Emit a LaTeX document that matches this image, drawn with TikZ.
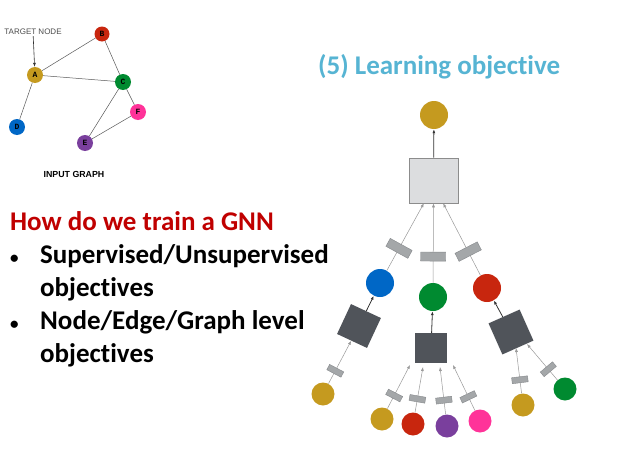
\documentclass[tikz,border=0pt]{standalone}
\usepackage{fontspec}
\setmainfont{Carlito}[Ligatures=NoCommon]
\newfontfamily\graphfont{Liberation Sans}
\newfontfamily\letterfont{Liberation Mono}
\usetikzlibrary{arrows.meta}
\definecolor{gold}{HTML}{C59A1F}
\definecolor{nblue}{HTML}{0067C6}
\definecolor{ngreen}{HTML}{008A30}
\definecolor{nred}{HTML}{C8260E}
\definecolor{npurple}{HTML}{7A3F9D}
\definecolor{npink}{HTML}{FF3399}
\definecolor{boxdark}{HTML}{50545A}
\definecolor{boxlight}{HTML}{DCDDDF}
\definecolor{gategray}{HTML}{A4A7A9}
\definecolor{gateedge}{HTML}{85888B}
\definecolor{edgegray}{HTML}{999999}
\definecolor{titleblue}{HTML}{56B4D3}
\definecolor{headred}{HTML}{C00000}
\begin{document}
\begin{tikzpicture}[x=1pt,y=-1pt,
  gnode/.style={circle,minimum size=16pt,inner sep=0pt,font=\letterfont\bfseries\fontsize{8}{8}\selectfont},
  gedge/.style={draw=black!65,line width=0.5pt},
  tnode/.style={circle,minimum size=28pt,inner sep=0pt},
  leaf/.style={circle,minimum size=23pt,inner sep=0pt},
  aggbox/.style={fill=boxdark,inner sep=0pt},
  msg/.style={-{Latex[length=4pt,width=3pt]},draw=edgegray,line width=0.5pt},
  upd/.style={-{Latex[length=4pt,width=3pt]},draw=black!80,line width=0.8pt},
  gatebig/.style={fill=gategray,draw=gateedge,line width=0.4pt,minimum width=9pt,minimum height=25pt,inner sep=0pt,sloped},
  gatesmall/.style={fill=gategray,draw=gateedge,line width=0.4pt,minimum width=6pt,minimum height=16pt,inner sep=0pt,sloped}]
\useasboundingbox (0,0) rectangle (633,474);
\fill[white] (0,0) rectangle (633,474);

\node[gnode,fill=gold] (A) at (35,75) {A};
\node[gnode,fill=nred,minimum size=15pt] (B) at (102,34) {B};
\node[gnode,fill=ngreen] (C) at (123,82) {C};
\node[gnode,fill=nblue] (D) at (17,127) {D};
\node[gnode,fill=npurple] (E) at (85,143) {E};
\node[gnode,fill=npink] (F) at (138,112) {F};
\draw[gedge] (A) -- (B);
\draw[gedge] (A) -- (C);
\draw[gedge] (A) -- (D);
\draw[gedge] (B) -- (C);
\draw[gedge] (C) -- (E);
\draw[gedge] (C) -- (F);
\draw[gedge] (E) -- (F);
\node[font=\graphfont\fontsize{8}{8}\selectfont,text=black!70,inner sep=1pt] (target) at (33,32) {TARGET NODE};
\draw[-{Latex[length=4pt,width=3pt]},black!80,line width=0.6pt] (target) -- (A);
\node[font=\graphfont\bfseries\fontsize{8.8}{9}\selectfont] (input) at (74,174) {INPUT GRAPH};

\node[font=\bfseries\fontsize{27}{30}\selectfont,text=titleblue,anchor=base west,inner sep=0pt] (title) at (318,74) {(5) Learning objective};

\node[font=\bfseries\fontsize{27}{33}\selectfont,text=headred,anchor=base west,inner sep=0pt] (head) at (10,230) {How do we train a GNN};
\node[font=\bfseries\fontsize{27}{33}\selectfont,anchor=base west,inner sep=0pt] (bullets) at (10,263)
  {\begin{tabular}[t]{@{}p{30pt}@{}l@{}}
  {\fontsize{17}{17}\selectfont\textbullet} & Supervised/Unsupervised\\
              & objectives\\
  {\fontsize{17}{17}\selectfont\textbullet} & Node/Edge/Graph level\\
              & objectives
  \end{tabular}};

\node[tnode,fill=gold] (out) at (434,115) {};
\node[draw=black!45,fill=boxlight,minimum width=49pt,minimum height=45pt,inner sep=0pt,line width=0.6pt] (agg) at (433.5,180.5) {};
\draw[upd] (agg) -- (out);

\node[tnode,fill=nblue] (nb) at (380,283) {};
\node[tnode,fill=ngreen] (nc) at (433,297) {};
\node[tnode,fill=nred] (nr) at (487,288) {};
\draw[msg] (nb) -- node[gatebig,pos=0.33] (gb) {} (agg.-113);
\draw[msg] (nc) -- node[gatebig,pos=0.33] (gc) {} (agg.-90);
\draw[msg] (nr) -- node[gatebig,pos=0.33] (gr) {} (agg.-67);

\node[aggbox,minimum size=33pt,rotate=-25] (sqb) at (359,326) {};
\node[aggbox,minimum width=32pt,minimum height=30pt] (sqc) at (431,348) {};
\node[aggbox,minimum size=34pt,rotate=24] (sqr) at (511,332) {};
\draw[upd] (sqb) -- (nb);
\draw[upd] (sqc) -- (nc);
\draw[upd] (sqr) -- (nr);

\node[leaf,fill=gold] (l1) at (323,394) {};
\node[leaf,fill=gold] (l2) at (382,419) {};
\node[leaf,fill=nred] (l3) at (413,424) {};
\node[leaf,fill=npurple] (l4) at (447,426) {};
\node[leaf,fill=npink] (l5) at (480,421) {};
\node[leaf,fill=gold] (l6) at (523,405) {};
\node[leaf,fill=ngreen] (l7) at (565,389) {};
\coordinate (c2) at (410,365);
\coordinate (c3) at (423,367);
\coordinate (c4) at (440,367);
\coordinate (c5) at (453,365);
\coordinate (c6) at (516,348);
\coordinate (c7) at (527,344);
\draw[msg] (l1) -- node[gatesmall,pos=0.3] (g1) {} (sqb);
\foreach \i in {2,...,7}
  \draw[msg] (l\i) -- node[gatesmall,pos=0.3] (g\i) {} (c\i);
\end{tikzpicture}
\end{document}
